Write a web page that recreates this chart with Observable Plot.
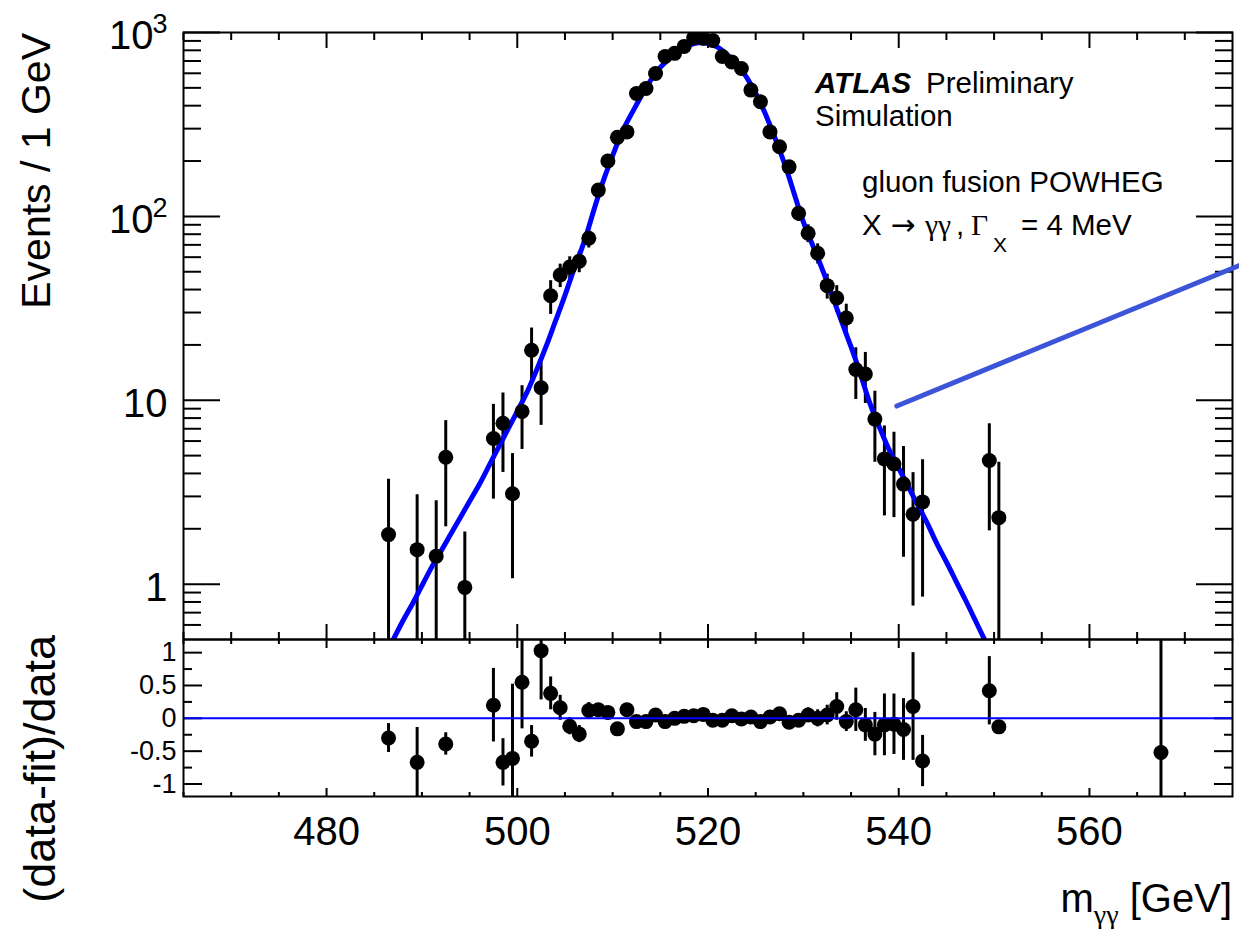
<!DOCTYPE html>
<html><head><meta charset="utf-8">
<script src="https://cdn.jsdelivr.net/npm/d3@7"></script>
<script src="https://cdn.jsdelivr.net/npm/@observablehq/plot@0.6"></script>
<style>
html,body{margin:0;padding:0;background:#fff;overflow:hidden;}
#chart{position:relative;width:1239px;height:929px;}
#chart svg{position:absolute;left:0;}
</style></head><body><div id="chart"></div>
<script>
const FONT = '"Liberation Sans", Arial, Helvetica, sans-serif';
const SERIF = '"Liberation Serif", "DejaVu Serif", serif';
const SYM = '"DejaVu Sans", sans-serif';

// ---- top panel: simulated events per 1 GeV bin ----
const topBins = [486.5, 489.5, 491.5, 492.5, 494.5, 497.5, 498.5, 499.5, 500.5, 501.5, 502.5, 503.5, 504.5, 505.5, 506.5, 507.5, 508.5, 509.5, 510.5, 511.5, 512.5, 513.5, 514.5, 515.5, 516.5, 517.5, 518.5, 519.5, 520.5, 521.5, 522.5, 523.5, 524.5, 525.5, 526.5, 527.5, 528.5, 529.5, 530.5, 531.5, 532.5, 533.5, 534.5, 535.5, 536.5, 537.5, 538.5, 539.5, 540.5, 541.5, 542.5, 549.5, 550.5];
const topEvents = [1.86, 1.54, 1.42, 4.9, 0.96, 6.2, 7.5, 3.1, 8.7, 18.7, 11.7, 37, 48, 53, 57, 76, 139, 200, 269, 288, 466, 496, 598, 740, 770, 840, 935, 930, 905, 740, 692, 637, 486, 420, 288, 239, 186, 104, 81, 63, 42, 36, 28, 14.7, 13.9, 7.9, 4.8, 4.5, 3.5, 2.4, 2.8, 4.7, 2.3];
const topErr = [1.86, 1.52, 1.42, 2.85, 0.96, 3.3, 3.45, 2.03, 3.3, 6.0, 4.4, 7.7, 7, 7.3, 7.6, 8.7, 11.8, 14, 16, 17, 21.6, 22.3, 24.5, 27, 27.7, 29, 30.4, 30.4, 30, 27, 26.3, 25.2, 22, 20.5, 17, 15.5, 13.6, 10.2, 9, 7.9, 6.5, 6, 5.3, 4.6, 4.3, 3.3, 2.45, 2.2, 2.1, 1.64, 1.95, 2.75, 2.3];

// ---- fit curve ----
const fitMass = [486.5, 487, 488, 489, 490, 491, 492, 493, 494, 495, 496, 497, 498, 499, 500, 501, 502, 503, 504, 505, 506, 507, 508, 509, 510, 511, 512, 513, 514, 515, 516, 517, 518, 519, 520, 521, 522, 523, 524, 525, 526, 527, 528, 529, 530, 531, 532, 533, 534, 535, 536, 537, 538, 539, 540, 541, 542, 543, 544, 545, 546, 547, 548, 549, 549.5];
const fitEvents = [0.45, 0.50, 0.63, 0.78, 0.98, 1.23, 1.51, 1.86, 2.29, 2.82, 3.47, 4.37, 5.5, 6.92, 8.71, 11.0, 14.5, 19.5, 26.9, 37.2, 52.5, 72.4, 107, 155, 214, 288, 363, 452, 550, 646, 724, 794, 851, 879, 871, 832, 759, 676, 575, 468, 363, 269, 195, 135, 93.3, 69.2, 51.3, 37.2, 26.9, 19.5, 13.8, 9.55, 7.08, 5.37, 4.27, 3.39, 2.69, 2.14, 1.66, 1.32, 1.04, 0.82, 0.64, 0.50, 0.45];

// ---- bottom panel: (data-fit)/data ----
const ratioBins = [486.5, 489.5, 492.5, 497.5, 498.5, 499.5, 500.5, 501.5, 502.5, 503.5, 504.5, 505.5, 506.5, 507.5, 508.5, 509.5, 510.5, 511.5, 512.5, 513.5, 514.5, 515.5, 516.5, 517.5, 518.5, 519.5, 520.5, 521.5, 522.5, 523.5, 524.5, 525.5, 526.5, 527.5, 528.5, 529.5, 530.5, 531.5, 532.5, 533.5, 534.5, 535.5, 536.5, 537.5, 538.5, 539.5, 540.5, 541.5, 542.5, 549.5, 550.5, 567.5];
const ratioVals = [-0.30, -0.67, -0.39, 0.20, -0.67, -0.61, 0.55, -0.35, 1.03, 0.38, 0.16, -0.12, -0.24, 0.12, 0.13, 0.09, -0.16, 0.13, -0.05, -0.05, 0.05, -0.05, 0.00, 0.03, 0.04, 0.06, -0.03, -0.03, 0.04, -0.01, 0.02, -0.05, 0.02, 0.07, -0.06, -0.03, 0.05, 0.00, 0.05, 0.18, -0.05, 0.13, -0.10, -0.24, -0.10, -0.09, -0.17, 0.18, -0.65, 0.42, -0.13, -0.52];
const ratioErr = [0.22, 0.53, 0.17, 0.56, 0.36, 1.13, 0.71, 0.24, 0.75, 0.25, 0.19, 0.13, 0.13, 0.12, 0.08, 0.07, 0.06, 0.06, 0.05, 0.045, 0.04, 0.04, 0.036, 0.035, 0.033, 0.033, 0.033, 0.036, 0.038, 0.04, 0.045, 0.05, 0.06, 0.065, 0.07, 0.1, 0.11, 0.13, 0.15, 0.21, 0.15, 0.33, 0.25, 0.33, 0.47, 0.46, 0.47, 0.82, 0.39, 0.52, 0.0, 2.0];

// ---- annotation pointer line (data coordinates) ----
const pointerMass = [539.8, 575.8];
const pointerEvents = [9.3, 54.3];

// ---- ticks and labels ----
const xDomain = [465, 575];
const xMajorTicks = [480, 500, 520, 540, 560];
const xMinorTicks = [465, 470, 475, 485, 490, 495, 505, 510, 515, 525, 530, 535, 545, 550, 555, 565, 570];
const yTopDomain = [0.5, 1000];
const yTopMajor = [1, 10, 100, 1000];
const yTopMinor = [0.6, 0.7, 0.8, 0.9, 2, 3, 4, 5, 6, 7, 8, 9, 20, 30, 40, 50, 60, 70, 80, 90, 200, 300, 400, 500, 600, 700, 800, 900];
const yTopBase = ["1", "10", "10", "10"];
const yTopExp = ["", "", "2", "3"];
const ratioDomain = [-1.19, 1.2];
const ratioMajor = [-1, -0.5, 0, 0.5, 1];
const ratioMinor = [-0.75, -0.25, 0.25, 0.75];

const events = topBins.map((m, i) => ({m, n: topEvents[i], lo: Math.max(topEvents[i] - topErr[i], 1e-3), hi: topEvents[i] + topErr[i]}));
const fit = fitMass.map((m, i) => ({m, n: fitEvents[i]}));
const pointer = pointerMass.map((m, i) => ({m, n: pointerEvents[i]}));
const ratio = ratioBins.map((m, i) => ({m, r: ratioVals[i], lo: ratioVals[i] - ratioErr[i], hi: ratioVals[i] + ratioErr[i]}));
const yLabPlain = yTopMajor.map((v, i) => ({v, t: yTopBase[i], e: yTopExp[i]})).filter(d => d.e === "");
const yLabExp = yTopMajor.map((v, i) => ({v, t: yTopBase[i], e: yTopExp[i]})).filter(d => d.e !== "");

const tk = (data, anchor, size) => (anchor === "left" || anchor === "right")
  ? Plot.axisY(data, {anchor, tickSize: -size, stroke: "black", fill: "none", strokeWidth: 2, label: null})
  : Plot.axisX(data, {anchor, tickSize: -size, stroke: "black", fill: "none", strokeWidth: 2, label: null});

const svgStyle = {background: "transparent", overflow: "visible", fontFamily: FONT, color: "black"};

const topSvg = Plot.plot({
  width: 1239, height: 641, marginTop: 32, marginBottom: 2, marginLeft: 183, marginRight: 7,
  style: svgStyle,
  x: {domain: xDomain, label: null},
  y: {type: "log", domain: yTopDomain, label: null},
  marks: [
    Plot.ruleX(events, {x: "m", y1: "lo", y2: "hi", stroke: "black", strokeWidth: 3, clip: true}),
    Plot.line(fit, {x: "m", y: "n", stroke: "#0000ff", strokeWidth: 5, curve: "natural", clip: true}),
    Plot.dot(events, {x: "m", y: "n", r: 7.5, fill: "black", clip: true}),
    tk(yTopMajor, "left", 37), tk(yTopMinor, "left", 18),
    tk(yTopMajor, "right", 37), tk(yTopMinor, "right", 18),
    tk(xMajorTicks, "bottom", 15), tk(xMinorTicks, "bottom", 7),
    tk(xMajorTicks, "top", 15), tk(xMinorTicks, "top", 7),
    Plot.frame({stroke: "black", strokeWidth: 2}),
    Plot.line(pointer, {x: "m", y: "n", stroke: "#3c54d8", strokeWidth: 5}),
    Plot.text(yLabPlain, {y: "v", text: "t", frameAnchor: "left", textAnchor: "end", dx: -16, dy: 4, fontSize: 40, fill: "black"}),
    Plot.text(yLabExp, {y: "v", text: "t", frameAnchor: "left", textAnchor: "end", dx: -30, dy: 4, fontSize: 40, fill: "black"}),
    Plot.text(yLabExp, {y: "v", text: "e", frameAnchor: "left", textAnchor: "start", dx: -31, dy: -8, fontSize: 27, fill: "black"})
  ]
});
topSvg.style.top = "0px";

const botSvg = Plot.plot({
  width: 1239, height: 329, marginTop: 39, marginBottom: 133, marginLeft: 183, marginRight: 7,
  style: svgStyle,
  x: {domain: xDomain, label: null},
  y: {domain: ratioDomain, label: null},
  marks: [
    Plot.ruleX(ratio, {x: "m", y1: "lo", y2: "hi", stroke: "black", strokeWidth: 3, clip: true}),
    Plot.dot(ratio, {x: "m", y: "r", r: 7.5, fill: "black", clip: true}),
    tk(ratioMajor, "left", 19), tk(ratioMinor, "left", 9),
    tk(ratioMajor, "right", 19), tk(ratioMinor, "right", 9),
    tk(xMajorTicks, "bottom", 8), tk(xMinorTicks, "bottom", 4),
    tk(xMajorTicks, "top", 8), tk(xMinorTicks, "top", 4),
    Plot.ruleY([0], {stroke: "#0000ff", strokeWidth: 2}),
    Plot.frame({stroke: "black", strokeWidth: 2}),
    Plot.axisX(xMajorTicks, {anchor: "bottom", tickSize: 0, tickPadding: 20, fontSize: 40, fill: "black", label: null, tickFormat: d => String(d)}),
    Plot.axisY(ratioMajor, {anchor: "left", tickSize: 0, tickPadding: 7, fontSize: 27, fill: "black", label: null, tickFormat: d => String(d)})
  ]
});
botSvg.style.top = "600px";

const chart = document.getElementById("chart");
chart.appendChild(topSvg);
chart.appendChild(botSvg);

// ---- rich text annotations ----
const ts = d3.select(topSvg);
function txt(sel, x, y, size, family) {
  return sel.append("text").attr("x", x).attr("y", y).attr("font-size", size)
    .attr("text-anchor", "start").attr("fill", "black").style("font-family", family || FONT);
}
ts.append("text").attr("transform", "translate(50,33) rotate(-90)").attr("text-anchor", "end")
  .attr("font-size", 41).attr("fill", "black").style("font-family", FONT).text("Events / 1 GeV");
txt(ts, 815, 93, 29.5).attr("font-weight", "bold").attr("font-style", "italic").text("ATLAS");
txt(ts, 926, 93, 29.5).text("Preliminary");
txt(ts, 815, 126, 29.5).text("Simulation");
txt(ts, 862, 192, 29.5).text("gluon fusion POWHEG");
txt(ts, 862, 235, 29.5).text("X");
txt(ts, 891, 235, 29.5, SYM).text("\u2192");
txt(ts, 925, 235, 29.5, SERIF).text("\u03B3\u03B3");
txt(ts, 956, 235, 29.5).text(",");
txt(ts, 971, 235, 29.5, SERIF).text("\u0393");
txt(ts, 993, 252, 21).text("X");
txt(ts, 1021, 235, 29.5).text("= 4 MeV");

const bs = d3.select(botSvg);
bs.append("text").attr("transform", "translate(55,35) rotate(-90)").attr("text-anchor", "end")
  .attr("font-size", 45).attr("fill", "black").style("font-family", FONT).text("(data-fit)/data");
const xt = bs.append("text").attr("x", 1232).attr("y", 312).attr("text-anchor", "end")
  .attr("font-size", 40).attr("fill", "black").style("font-family", FONT);
xt.append("tspan").text("m");
xt.append("tspan").attr("dy", 12).attr("font-size", 28).style("font-family", SERIF).text("\u03B3\u03B3");
xt.append("tspan").attr("dy", -12).text(" [GeV]");
</script></body></html>
